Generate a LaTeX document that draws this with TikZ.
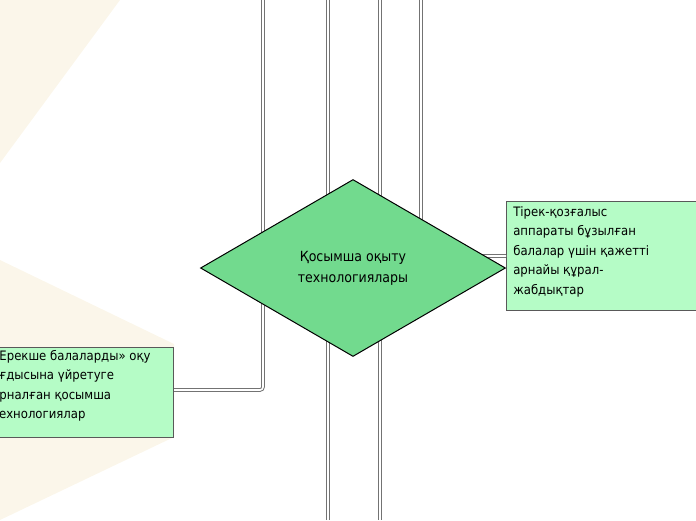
\documentclass[tikz,border=0pt]{standalone}
\usepackage{fontspec}
\setmainfont{DejaVu Sans Condensed}
\usetikzlibrary{shapes.geometric}
\definecolor{cream}{HTML}{FBF6EA}
\definecolor{diafill}{HTML}{72DA8E}
\definecolor{boxfill}{HTML}{B5FCC6}
\tikzset{
	main node/.style={diamond,draw,fill=diafill,line width=1pt,aspect=1.72,minimum width=305pt,minimum height=177pt,inner sep=0pt,font=\fontsize{14}{21}\selectfont,align=center},
	leaf node/.style={rectangle,draw=gray!70!black,fill=boxfill,line width=0.6pt,anchor=north west,inner sep=0pt,font=\fontsize{13}{19.5}\selectfont,align=left},
	wire/.style={draw=gray!90!black,double=white,double distance=1.6pt,line width=1pt,rounded corners=3pt}
}
\begin{document}
\begin{tikzpicture}[x=1pt,y=-1pt]
	    \useasboundingbox (0,0) rectangle (696,520);
	    \fill[cream] (0,0) -- (120,0) -- (0,163) -- cycle;
	    \fill[cream] (0,260) -- (174,344) -- (174,437) -- (0,520) -- cycle;
	    % wires
	    \coordinate (t1) at (263,0);
	    \coordinate (t2) at (328,0);
	    \coordinate (t3) at (380,0);
	    \coordinate (t4) at (421,0);
	    \coordinate (b2) at (328,520);
	    \coordinate (b3) at (380,520);
	    \node [leaf node,minimum width=190pt,minimum height=109pt] (aids) at (506,201) {};
	    \node [leaf node,minimum width=174pt,minimum height=90pt] (extra) at (-1,347) {};
	    \path[wire] (t1) |- (extra.east |- 0,390);
	    \path[wire] (t4) |- (aids.west |- 0,256);
	    \path[wire] (t2) -- (b2);
	    \path[wire] (t3) -- (b3);
	    \node [main node] (tech) at (353,268) {Қосымша оқыту\\технологиялары};
	    \node [leaf node,draw=none,fill=none] (aidstext) at (513,206) {Тірек-қозғалыс\\аппараты бұзылған\\балалар үшін қажетті\\арнайы құрал-\\жабдықтар};
	    \node [leaf node,draw=none,fill=none] (extratext) at (-8,350) {«Ерекше балаларды» оқу\\ағдысына үйретуге\\арналған қосымша\\технологиялар};
	    \draw[gray!70!black,line width=0.6pt] (extra.north west) rectangle (extra.south east);
\end{tikzpicture}
\end{document}
